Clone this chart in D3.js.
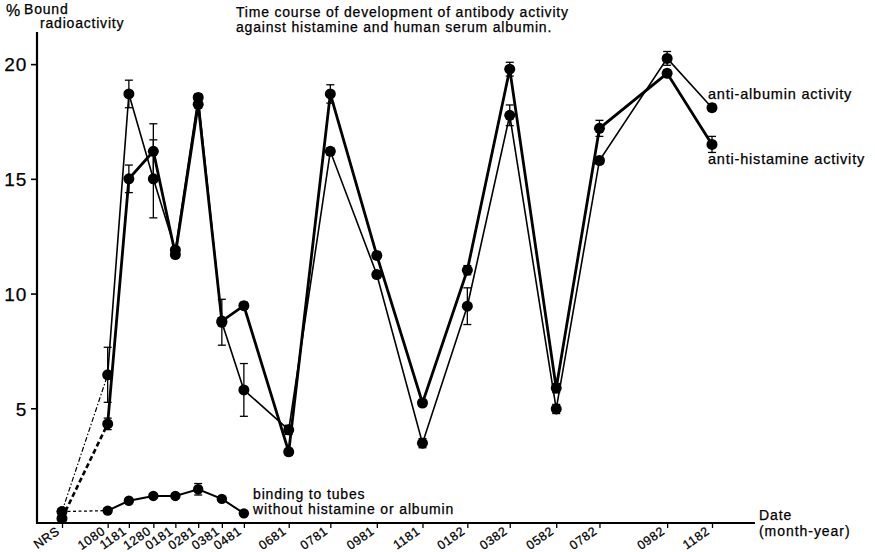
<!DOCTYPE html>
<html>
<head>
<meta charset="utf-8">
<script src="https://cdn.jsdelivr.net/npm/d3@7"></script>
<style>
  html, body { margin: 0; padding: 0; background: #fff; }
  svg text { font-family: "Liberation Sans", Arial, Helvetica, sans-serif; fill: #000; stroke: #000; stroke-width: 0.25px; }
</style>
</head>
<body>
<svg id="chart" width="875" height="552"></svg>
<script>
// Sampling points (NRS = normal serum control), tick labels as printed
const dateLabels = ["NRS", "1080", "1181", "1280", "0181", "0281", "0381", "0481", "0681",
                    "0781", "0981", "1181", "0182", "0382", "0582", "0782", "0982", "1182"];
// Day of each bleed, counted from the October 1980 sample
const sampleDay = [-56, 0, 26, 56, 83, 111, 140, 167, 222, 273, 330, 386, 441, 493, 550, 603, 686, 741];

// % bound radioactivity, mean and error
const antiHistamine    = [0.2, 4.32, 15.0, 16.2, 11.7, 18.25, 8.8, 9.47, 3.1, 18.7, 11.66, 5.23, 11.02, 19.78, 5.88, 17.2, 19.6, 16.5];
const antiHistamineErr = [0, 0.25, 0.6, 1.2, 0.1, 0.15, 0.15, 0.15, 0.15, 0.4, 0.15, 0.15, 0.2, 0.3, 0.2, 0.35, 0.15, 0.35];
const antiAlbumin      = [0.5, 6.46, 18.7, 15.0, 11.9, 18.55, 8.75, 5.8, 4.06, 16.2, 10.83, 3.48, 9.45, 17.77, 4.97, 15.8, 20.25, 18.1];
const antiAlbuminErr   = [0, 1.2, 0.6, 1.7, 0.1, 0.15, 1.0, 1.15, 0.2, 0.15, 0.15, 0.2, 0.8, 0.45, 0.2, 0.15, 0.3, 0.15];
// Control: binding to tubes without antigen (first eight samples)
const tubeBinding      = [0.5, 0.54, 0.97, 1.18, 1.18, 1.47, 1.05, 0.42];
const tubeBindingErr   = [0.1, 0.1, 0.1, 0.1, 0.1, 0.25, 0.1, 0.1];

const yTicks = [5, 10, 15, 20];

const svg = d3.select("#chart");
const axisX0 = 37, axisX1 = 755, axisY = 523;

const x = d3.scaleLinear().domain([sampleDay[0], sampleDay[sampleDay.length - 1]]).range([62, 712]);
const y = d3.scaleLinear().domain([0, 21.4]).range([axisY, 32]);

// ---- axes ----
const yAxis = svg.append("g")
  .attr("transform", `translate(${axisX0},0)`)
  .call(d3.axisLeft(y).tickValues(yTicks).tickSize(6).tickPadding(4).tickFormat(d3.format("d")));
yAxis.select(".domain").remove();
yAxis.selectAll(".tick line").attr("stroke", "#000").attr("stroke-width", 1.6);
yAxis.selectAll(".tick text").style("font-size", "19px").style("letter-spacing", "0.8px").attr("dy", "0.36em");

svg.append("line").attr("x1", axisX0).attr("x2", axisX0).attr("y1", 32).attr("y2", axisY + 1)
  .attr("stroke", "#000").attr("stroke-width", 2.2);

const xAxis = svg.append("g")
  .attr("transform", `translate(0,${axisY})`)
  .call(d3.axisBottom(x).tickValues(sampleDay).tickSize(5).tickFormat((d, i) => dateLabels[i]));
xAxis.select(".domain").remove();
xAxis.selectAll(".tick line").attr("stroke", "#000").attr("stroke-width", 1.3);
xAxis.selectAll(".tick text")
  .style("font-size", "12.5px").style("letter-spacing", "0.6px")
  .attr("text-anchor", "end").attr("x", 0).attr("y", 0).attr("dy", 0)
  .attr("transform", "translate(-2,10) rotate(-35)");

svg.append("line").attr("x1", axisX0 - 1).attr("x2", axisX1).attr("y1", axisY).attr("y2", axisY)
  .attr("stroke", "#000").attr("stroke-width", 2.2);

// ---- series ----
function drawSeries(values, errs, opts) {
  const pts = values.map((v, i) => ({ t: sampleDay[i], v, e: errs[i] }));
  const line = d3.line().x(d => x(d.t)).y(d => y(d.v));
  // control-to-first-bleed segment
  svg.append("path").datum(pts.slice(0, 2)).attr("d", line)
    .attr("fill", "none").attr("stroke", "#000")
    .attr("stroke-width", opts.leadWidth).attr("stroke-dasharray", opts.leadDash);
  svg.append("path").datum(pts.slice(1)).attr("d", line)
    .attr("fill", "none").attr("stroke", "#000").attr("stroke-width", opts.width)
    .attr("stroke-linejoin", "miter");
  const eb = svg.append("g").selectAll("g").data(pts.filter(d => d.e > 0)).join("g")
    .attr("stroke", "#000").attr("stroke-width", 1.3);
  eb.append("line").attr("x1", d => x(d.t)).attr("x2", d => x(d.t))
    .attr("y1", d => y(d.v - d.e)).attr("y2", d => y(d.v + d.e));
  eb.append("line").attr("x1", d => x(d.t) - 4).attr("x2", d => x(d.t) + 4)
    .attr("y1", d => y(d.v + d.e)).attr("y2", d => y(d.v + d.e));
  eb.append("line").attr("x1", d => x(d.t) - 4).attr("x2", d => x(d.t) + 4)
    .attr("y1", d => y(d.v - d.e)).attr("y2", d => y(d.v - d.e));
  svg.append("g").selectAll("circle").data(pts).join("circle")
    .attr("cx", d => x(d.t)).attr("cy", d => y(d.v)).attr("r", opts.r).attr("fill", "#000");
}

drawSeries(antiAlbumin, antiAlbuminErr, { width: 1.6, leadWidth: 1.2, leadDash: "5,2,1.5,2", r: 5.5 });
drawSeries(antiHistamine, antiHistamineErr, { width: 2.8, leadWidth: 2.6, leadDash: "5,3", r: 5.5 });
drawSeries(tubeBinding, tubeBindingErr, { width: 2, leadWidth: 1.3, leadDash: "3,2.5", r: 5.2 });

// ---- text ----
function label(txt, lx, ly, size, ls) {
  svg.append("text").attr("x", lx).attr("y", ly).text(txt)
    .style("font-size", size + "px").style("letter-spacing", (ls || 0) + "px");
}
label("%", 6, 16, 16, 0);
label("Bound", 24, 14, 14, 0.8);
label("radioactivity", 40, 28, 14, 0.8);
label("Time course of development of antibody activity", 236, 17, 14, 0.8);
label("against histamine and human serum albumin.", 236, 32, 14, 0.8);
label("anti-albumin activity", 708, 99, 14.5, 0.8);
label("anti-histamine activity", 708, 164, 14.5, 0.8);
label("binding to tubes", 253, 499, 14, 0.85);
label("without histamine or albumin", 253, 514, 14, 0.85);
label("Date", 759, 520, 14, 0.9);
label("(month-year)", 759, 536, 14, 0.95);
</script>
</body>
</html>
